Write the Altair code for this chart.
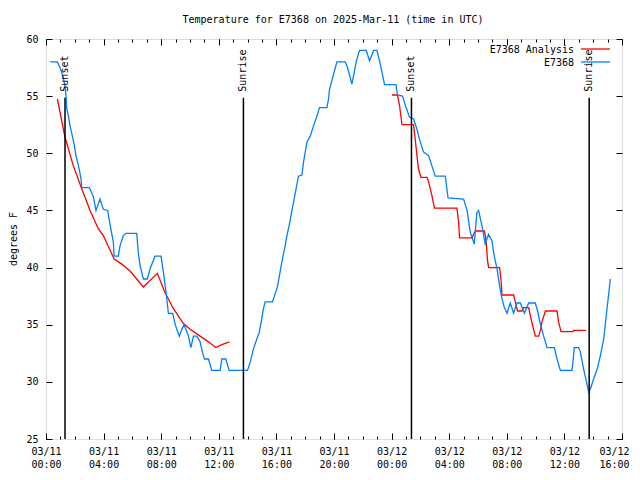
import altair as alt
import pandas as pd

FONT = "DejaVu Sans Mono"
W, H = 576, 400

# ---- data (hours since 2025-03-11 00:00 UTC, degrees F) ----
blue_t = [0.28, 0.79, 0.97, 1.16, 1.32, 1.39, 1.44, 1.55, 1.67, 1.83,
          1.97, 2.08, 2.20, 2.31, 2.43, 2.48, 3.01, 3.29, 3.47, 3.75,
          3.98, 4.29, 4.38, 4.50, 4.68, 4.73, 5.02, 5.14, 5.37, 5.56,
          6.30, 6.41, 6.53, 6.76, 7.04, 7.23, 7.57, 7.99, 8.15, 8.34,
          8.50, 8.80, 8.96, 9.08, 9.26, 9.43, 9.59, 9.89, 10.06, 10.24,
          10.47, 10.70, 10.86, 11.00, 11.28, 11.51, 12.09, 12.21, 12.49, 12.72,
          13.99, 14.18, 14.41, 14.64, 14.80, 14.94, 15.10, 15.22, 15.73, 15.91,
          16.07, 16.21, 16.38, 16.49, 16.61, 16.73, 16.89, 17.03, 17.19, 17.53,
          17.77, 17.88, 18.12, 18.35, 18.58, 18.85, 18.99, 19.51, 19.62, 19.69,
          19.85, 20.20, 20.78, 20.94, 21.24, 21.36, 21.54, 21.77, 22.24, 22.47,
          22.75, 22.98, 23.16, 23.33, 23.51, 24.30, 24.41, 24.76, 24.95, 25.25,
          25.53, 25.76, 25.99, 26.22, 26.57, 26.80, 27.03, 27.73, 27.92, 29.00,
          29.24, 29.46, 29.74, 29.92, 30.04, 30.27, 30.50, 30.73, 30.97, 31.13,
          31.32, 31.50, 31.67, 31.83, 32.02, 32.24, 32.47, 32.71, 32.94, 33.22,
          33.52, 33.98, 34.14, 34.33, 34.56, 34.80, 35.30, 35.49, 35.72, 36.53,
          36.69, 36.99, 37.11, 37.34, 37.53, 37.69, 37.81, 38.03, 38.27, 38.50,
          38.73, 38.96, 39.19]
blue_v = [58, 58, 57.5, 56.8, 55.9, 55.0, 53.9, 53.3, 52.4, 51.5,
          50.7, 49.8, 49.2, 48.6, 47.75, 47, 47, 46.2, 45, 46,
          45.1, 45, 44.25, 43.4, 42.2, 41, 41, 41.9, 42.8, 43,
          43, 41.3, 40.2, 39, 39, 39.9, 41, 41, 39.6, 37.8,
          36, 36, 35.1, 34.6, 34, 34.6, 35, 34, 33, 34,
          34, 33.5, 32.6, 32, 32, 31, 31, 32, 32, 31,
          31, 31.7, 32.9, 33.75, 34.3, 35.2, 36.4, 37, 37, 37.7,
          38.3, 39.3, 40.5, 41.2, 41.9, 42.8, 43.7, 44.7, 45.7, 48,
          48.1, 49.2, 51, 51.5, 52.4, 53.4, 54, 54, 54.75, 55.6,
          56.35, 58, 58, 57.5, 56.06, 56.8, 58, 59, 59, 58.1,
          59, 59, 58.1, 57.1, 56, 56, 55.1, 55, 54.2, 53.15,
          53, 52.1, 51, 50.1, 49.8, 48.9, 48, 48, 46.1, 46,
          45, 43.1, 42.06, 44.8, 45, 43.7, 42.06, 42.9, 42.35, 41,
          39.9, 38.4, 37.25, 36.5, 36, 36.9, 36, 36.9, 36.9, 36,
          36.9, 36.9, 36.2, 35.06, 34, 33, 33, 32, 31, 31,
          33, 33, 32.6, 31.1, 30, 29.1, 29.4, 30.25, 31.1, 32.3,
          33.75, 36.4, 39]

red1_t = [0.79, 1.32, 1.90, 2.48, 3.06, 3.63, 3.98, 4.73, 5.26, 5.84, 6.30,
          6.76, 7.73, 8.27, 8.85, 9.54, 10.01, 10.70, 11.28, 11.79, 12.21, 12.74]
red1_v = [54.75, 51.4, 48.9, 46.9, 45.0, 43.4, 42.8, 40.75, 40.3, 39.7, 39.0,
          38.3, 39.5, 37.8, 36.4, 35.1, 34.6, 34.0, 33.5, 33.0, 33.25, 33.5]

red2_t = [24.02, 24.41, 24.55, 24.72, 25.52, 25.64, 25.76, 25.87, 26.04, 26.46,
          26.57, 26.80, 26.98, 28.54, 28.65, 28.72, 29.58, 29.81, 30.44, 30.51,
          30.58, 30.67, 30.74, 31.50, 31.60, 31.67, 32.47, 32.59, 32.75, 33.06,
          33.17, 33.52, 33.63, 33.82, 33.98, 34.21, 34.33, 34.45, 34.68, 35.49,
          35.60, 35.77, 36.60, 36.64, 37.50]
red2_v = [55.1, 55.1, 54.2, 52.5, 52.5, 51.25, 49.8, 48.6, 47.9, 47.9,
          47.5, 46.3, 45.2, 45.2, 44.0, 42.6, 42.6, 43.2, 43.2, 42.8,
          42.06, 40.5, 40.0, 40.0, 38.85, 37.6, 37.6, 37.0, 36.2, 36.2,
          36.5, 36.5, 35.8, 34.8, 34.0, 34.0, 34.5, 35.3, 36.2, 36.2,
          35.2, 34.4, 34.4, 34.5, 34.5]

sun_t = [1.32, 13.71, 25.38, 37.72]
sun_label = ["Sunset", "Sunrise", "Sunset", "Sunrise"]

x_major = list(range(0, 41, 4))
x_minor = list(range(0, 41))
y_major = list(range(25, 61, 5))

TITLE = "Temperature for E7368 on 2025-Mar-11 (time in UTC)"

# ---- tables ----
blue_df = pd.DataFrame({"t": blue_t, "v": blue_v})
red_df = pd.concat([
    pd.DataFrame({"t": red1_t, "v": red1_v, "seg": 1}),
    pd.DataFrame({"t": red2_t, "v": red2_v, "seg": 2}),
])
sun_df = pd.DataFrame({"t": sun_t, "label": sun_label,
                       "y0": 25.0, "y1": 54.86, "ty": 55.39})
one = pd.DataFrame({"a": [0]})

xs = alt.Scale(domain=[0, 40], nice=False, zero=False)
ys = alt.Scale(domain=[25, 60], nice=False, zero=False)


def tick_axis(orient, offset, values, size):
    return alt.Axis(orient=orient, offset=offset, values=values, tickSize=size,
                    tickColor="black", tickWidth=1, labels=False, domain=False,
                    grid=False, title=None)


label_expr = ("[datum.value < 24 ? '03/11' : '03/12', "
              "(datum.value % 24 < 10 ? '0' : '') + (datum.value % 24) + ':00']")

ax_x_labels = alt.Axis(orient="bottom", values=x_major, labelExpr=label_expr,
                       ticks=False, domain=False, grid=False, title=None,
                       labelFont=FONT, labelFontSize=10, labelColor="black",
                       labelPadding=7, labelFlush=False, labelOverlap=False,
                       labelBound=False, labelLineHeight=13.5,
                       labelOffset={"condition": {"test": "datum.value == 40", "value": -8},
                                    "value": 0})
ax_y_labels = alt.Axis(orient="left", values=y_major, ticks=False, domain=False,
                       grid=False, title=None, labelFont=FONT, labelFontSize=10,
                       labelColor="black", labelPadding=8, labelOverlap=False,
                       labelFlush=False)

red = alt.Chart(red_df).mark_line(color="#ff0000", strokeWidth=1.3).encode(
    x=alt.X("t:Q", scale=xs, axis=tick_axis("top", -H, x_major, 6)),
    y=alt.Y("v:Q", scale=ys, axis=tick_axis("right", -W, y_major, 6)),
    detail="seg:N",
)
blue = alt.Chart(blue_df).mark_line(color="#0080ff", strokeWidth=1.3).encode(
    x=alt.X("t:Q", scale=xs, axis=ax_x_labels),
    y=alt.Y("v:Q", scale=ys, axis=ax_y_labels),
)
sun_rule = alt.Chart(sun_df).mark_rule(color="black", strokeWidth=1.5).encode(
    x=alt.X("t:Q", scale=xs, axis=tick_axis("top", -H, x_minor, 3)),
    y=alt.Y("y0:Q", scale=ys, axis=tick_axis("left", -W, y_major, 6)),
    y2="y1:Q",
)
sun_text = alt.Chart(sun_df).mark_text(angle=270, align="left", baseline="middle",
                                       font=FONT, fontSize=10, color="black").encode(
    x=alt.X("t:Q", scale=xs, axis=tick_axis("bottom", -H, x_major, 6)),
    y=alt.Y("ty:Q", scale=ys, axis=None),
    text="label:N",
)
extra = alt.Chart(sun_df).mark_rule(opacity=0).encode(
    x=alt.X("t:Q", scale=xs, axis=tick_axis("bottom", -H, x_minor, 3)),
    y=alt.Y("y0:Q", scale=ys, axis=None),
    y2="y1:Q",
)

txt = dict(font=FONT, fontSize=10, color="black")
leg1 = alt.Chart(one).mark_text(align="right", baseline="middle", text="E7368 Analysis", **txt).encode(
    x=alt.value(528), y=alt.value(10.5))
leg1r = alt.Chart(one).mark_rule(color="#ff0000", strokeWidth=1.3).encode(
    x=alt.value(535), x2=alt.value(564), y=alt.value(10))
leg2 = alt.Chart(one).mark_text(align="right", baseline="middle", text="E7368", **txt).encode(
    x=alt.value(528), y=alt.value(23.5))
leg2r = alt.Chart(one).mark_rule(color="#0080ff", strokeWidth=1.3).encode(
    x=alt.value(535), x2=alt.value(564), y=alt.value(23))
title = alt.Chart(one).mark_text(align="center", baseline="middle", text=TITLE, **txt).encode(
    x=alt.value(287), y=alt.value(-19))
ytitle = alt.Chart(one).mark_text(align="center", baseline="middle", angle=270,
                                  text="degrees F", **txt).encode(
    x=alt.value(-32), y=alt.value(200))

chart = alt.layer(
    red, blue, sun_rule, sun_text, extra, leg1, leg1r, leg2, leg2r, title, ytitle
).resolve_axis(x="independent", y="independent").properties(
    width=W, height=H,
    autosize=alt.AutoSizeParams(type="none"),
    padding={"left": 38, "top": 31, "right": 10, "bottom": 30},
).configure_view(stroke="black", strokeWidth=1).configure(background="white")

chart.save("out.html", embed_options={"renderer": "svg", "actions": False})
